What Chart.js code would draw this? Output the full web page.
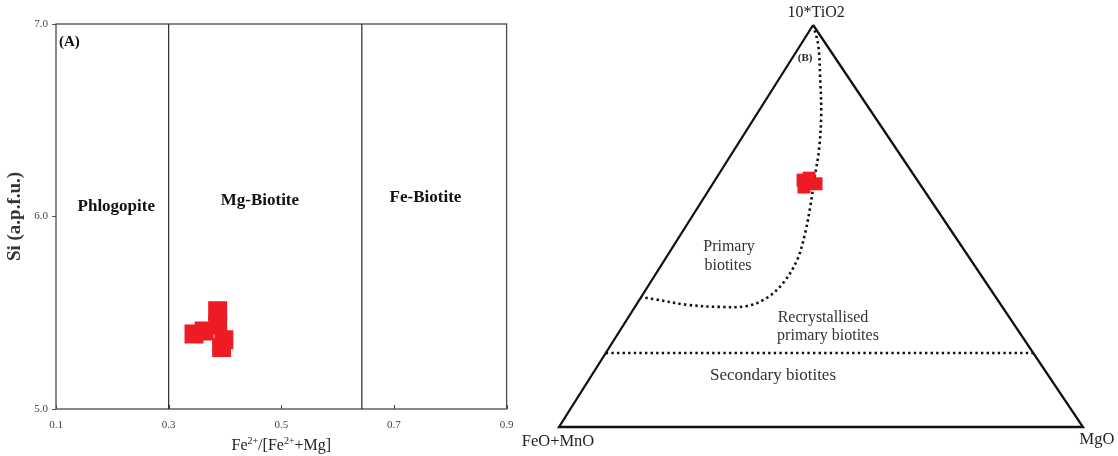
<!DOCTYPE html>
<html>
<head>
<meta charset="utf-8">
<script src="https://cdn.jsdelivr.net/npm/chart.js@4.4.0/dist/chart.umd.min.js"></script>
<style>
  html, body { margin: 0; padding: 0; background: #fff; overflow: hidden; }
  #wrap { position: relative; width: 1118px; height: 456px; }
  canvas { position: absolute; top: 0; }
  #biotiteA { left: 0; }
  #biotiteB { left: 520px; }
</style>
</head>
<body>
<div id="wrap">
  <canvas id="biotiteA" width="520" height="456"></canvas>
  <canvas id="biotiteB" width="598" height="456"></canvas>
</div>
<script>
// ---- Panel A: Si (a.p.f.u.) against Fe2+/(Fe2+ + Mg) ----
const feRatio = [0.345, 0.363, 0.387, 0.387, 0.394, 0.398];
const siApfu  = [5.39, 5.405, 5.51, 5.436, 5.32, 5.36];
const xTicksA = [0.1, 0.3, 0.5, 0.7, 0.9];
const yTicksA = [5.0, 6.0, 7.0];
const fieldBounds = [0.3, 0.643];
const fieldNames = ['Phlogopite', 'Mg-Biotite', 'Fe-Biotite'];

// ---- Panel B: 10*TiO2 - (FeO+MnO) - MgO ternary (percent) ----
const sampleTiO2  = [61.4, 59.7, 61.9, 60.5];
const sampleFeMn  = [21.8, 22.5, 20.4, 19.8];
const sampleMgO   = [16.8, 17.8, 17.7, 19.7];
// boundary between primary and re-equilibrated biotites
const primaryTiO2 = [100, 95.0, 86.3, 77.6, 68.9, 62.7, 54.7, 48.3, 41.5, 35.8, 32.1, 30.1, 29.9, 30.4, 31.8, 32.3];
const primaryFeMn = [0, 1.6, 5.7, 10.0, 14.9, 18.9, 23.9, 28.2, 33.2, 38.8, 43.8, 48.6, 53.9, 59.9, 65.6, 67.7];
const primaryMgO  = [0, 3.4, 8.0, 12.4, 16.2, 18.5, 21.4, 23.6, 25.3, 25.4, 24.1, 21.3, 16.3, 9.7, 2.5, 0];
// boundary of the secondary biotite field
const secondaryTiO2 = [18.4, 18.4];
const secondaryFeMn = [81.6, 0];
const secondaryMgO  = [0, 81.6];
const vertexNames = ['10*TiO2', 'FeO+MnO', 'MgO'];

const SERIF = '"Liberation Serif", "Times New Roman", serif';
const RED = '#ed1c24';

// ---------- Panel A ----------
const frameA = {
  id: 'frameA',
  beforeDatasetsDraw(chart) {
    const { ctx, chartArea: a, scales: { x } } = chart;
    ctx.save();
    ctx.strokeStyle = '#4a4a4a';
    ctx.lineWidth = 1.3;
    ctx.strokeRect(a.left, a.top, a.right - a.left, a.bottom - a.top);
    // inward tick marks on the x axis
    ctx.lineWidth = 1;
    xTicksA.forEach(v => {
      const px = Math.round(x.getPixelForValue(v)) + 0.5;
      ctx.beginPath();
      ctx.moveTo(px, a.bottom);
      ctx.lineTo(px, a.bottom - 4);
      ctx.stroke();
    });
    ctx.restore();
  },
  afterDraw(chart) {
    const { ctx, chartArea: a, scales: { x, y } } = chart;
    ctx.save();
    ctx.fillStyle = '#111';
    ctx.textAlign = 'center';
    ctx.textBaseline = 'middle';
    ctx.font = `bold 17px ${SERIF}`;
    const fieldAnchors = [[0.207, 6.05], [0.462, 6.085], [0.756, 6.10]];
    fieldNames.forEach((n, i) => {
      ctx.fillText(n, x.getPixelForValue(fieldAnchors[i][0]), y.getPixelForValue(fieldAnchors[i][1]));
    });
    ctx.font = `bold 15px ${SERIF}`;
    ctx.textAlign = 'left';
    ctx.fillText('(A)', a.left + 3, a.top + 18);

    // y title
    ctx.save();
    ctx.translate(15, (a.top + a.bottom) / 2);
    ctx.rotate(-Math.PI / 2);
    ctx.textAlign = 'center';
    ctx.font = `bold 19px ${SERIF}`;
    ctx.fillStyle = '#333';
    ctx.fillText('Si (a.p.f.u.)', 0, 0);
    ctx.restore();

    // x title with superscripts
    const parts = [['Fe', 0], ['2+', 1], ['/[Fe', 0], ['2+', 1], ['+Mg]', 0]];
    const big = `16px ${SERIF}`, small = `10px ${SERIF}`;
    let w = 0;
    parts.forEach(([t, s]) => { ctx.font = s ? small : big; w += ctx.measureText(t).width; });
    let cx = (a.left + a.right) / 2 - w / 2;
    const base = 450;
    ctx.textAlign = 'left';
    ctx.textBaseline = 'alphabetic';
    ctx.fillStyle = '#222';
    parts.forEach(([t, s]) => {
      ctx.font = s ? small : big;
      ctx.fillText(t, cx, s ? base - 6 : base);
      cx += ctx.measureText(t).width;
    });
    ctx.restore();
  }
};

new Chart(document.getElementById('biotiteA'), {
  type: 'scatter',
  data: {
    datasets: [
      {
        label: 'Biotite',
        data: feRatio.map((v, i) => ({ x: v, y: siApfu[i] })),
        pointStyle: 'rect',
        pointRadius: 13.4,
        backgroundColor: RED,
        borderWidth: 0
      },
      ...fieldBounds.map(b => ({
        type: 'line',
        data: [{ x: b, y: yTicksA[0] }, { x: b, y: yTicksA[yTicksA.length - 1] }],
        borderColor: '#2a2a2a',
        borderWidth: 1.2,
        pointRadius: 0,
        fill: false
      }))
    ]
  },
  options: {
    responsive: false,
    animation: false,
    events: [],
    layout: { padding: { left: 0, top: 24, right: 13, bottom: 0 } },
    plugins: { legend: { display: false }, tooltip: { enabled: false } },
    scales: {
      x: {
        type: 'linear', min: 0.1, max: 0.9,
        afterBuildTicks: s => { s.ticks = xTicksA.map(v => ({ value: v })); },
        afterFit: s => { s.height = 47; s.paddingLeft = 0; s.paddingRight = 0; },
        grid: { display: false, drawTicks: false },
        border: { display: false },
        ticks: { font: { family: SERIF, size: 11 }, color: '#444', padding: 10, maxRotation: 0, callback: v => Number(v).toFixed(1) }
      },
      y: {
        type: 'linear', min: 5, max: 7,
        afterBuildTicks: s => { s.ticks = yTicksA.map(v => ({ value: v })); },
        afterFit: s => { s.width = 56; s.paddingTop = 0; s.paddingBottom = 0; },
        grid: { display: true, drawOnChartArea: false, drawTicks: true, tickLength: 4, color: '#555' },
        border: { display: false },
        ticks: { font: { family: SERIF, size: 11 }, color: '#444', padding: 4, callback: v => Number(v).toFixed(1) }
      }
    }
  },
  plugins: [frameA]
});

// ---------- Panel B ----------
const apexX = 0.485;
function ternXY(t, f, m) {
  const s = t + f + m;
  return { x: (m + t * apexX) / s, y: t / s };
}
const ternSeries = (t, f, m) => t.map((v, i) => ternXY(v, f[i], m[i]));

const labelsB = {
  id: 'labelsB',
  afterDraw(chart) {
    const { ctx, scales: { x, y } } = chart;
    const P = (t, f, m) => { const p = ternXY(t, f, m); return [x.getPixelForValue(p.x), y.getPixelForValue(p.y)]; };
    ctx.save();
    ctx.fillStyle = '#222';
    ctx.textAlign = 'center';
    ctx.textBaseline = 'middle';
    ctx.font = `16px ${SERIF}`;
    const top = P(100, 0, 0), left = P(0, 100, 0), right = P(0, 0, 100);
    ctx.fillText(vertexNames[0], top[0] + 3, top[1] - 12);
    ctx.font = `16.5px ${SERIF}`;
    ctx.fillText(vertexNames[1], left[0] - 1, left[1] + 15);
    ctx.fillText(vertexNames[2], right[0] + 14, right[1] + 13);

    ctx.fillStyle = '#333';
    ctx.font = `16px ${SERIF}`;
    ctx.fillText('Primary', 209, 247);
    ctx.fillText('biotites', 208, 266);
    ctx.fillText('Recrystallised', 303, 318);
    ctx.fillText('primary biotites', 308, 336);
    ctx.font = `17px ${SERIF}`;
    ctx.fillText('Secondary biotites', 253, 376);

    ctx.fillStyle = '#222';
    ctx.font = `bold 11px ${SERIF}`;
    ctx.fillText('(B)', top[0] - 8, top[1] + 33);
    ctx.restore();
  }
};

const dotted = { borderColor: '#111', borderWidth: 2.6, borderDash: [2.4, 3.2], pointRadius: 0, fill: false, clip: false };

new Chart(document.getElementById('biotiteB'), {
  type: 'scatter',
  data: {
    datasets: [
      {
        label: 'Biotite',
        data: ternSeries(sampleTiO2, sampleFeMn, sampleMgO),
        pointStyle: 'rect',
        pointRadius: 9.2,
        backgroundColor: RED,
        borderWidth: 0,
        clip: false
      },
      Object.assign({ type: 'line', data: ternSeries(primaryTiO2, primaryFeMn, primaryMgO), tension: 0.35 }, dotted),
      Object.assign({ type: 'line', data: ternSeries(secondaryTiO2, secondaryFeMn, secondaryMgO), tension: 0 }, dotted),
      {
        type: 'line',
        data: ternSeries([100, 0, 0, 100], [0, 100, 0, 0], [0, 0, 100, 0]),
        borderColor: '#111',
        borderWidth: 2.3,
        pointRadius: 0,
        tension: 0,
        fill: false,
        clip: false
      }
    ]
  },
  options: {
    responsive: false,
    animation: false,
    events: [],
    layout: { padding: { left: 39, right: 35, top: 25, bottom: 29 } },
    plugins: { legend: { display: false }, tooltip: { enabled: false } },
    scales: {
      x: { type: 'linear', min: 0, max: 1, display: false },
      y: { type: 'linear', min: 0, max: 1, display: false }
    }
  },
  plugins: [labelsB]
});
</script>
</body>
</html>
